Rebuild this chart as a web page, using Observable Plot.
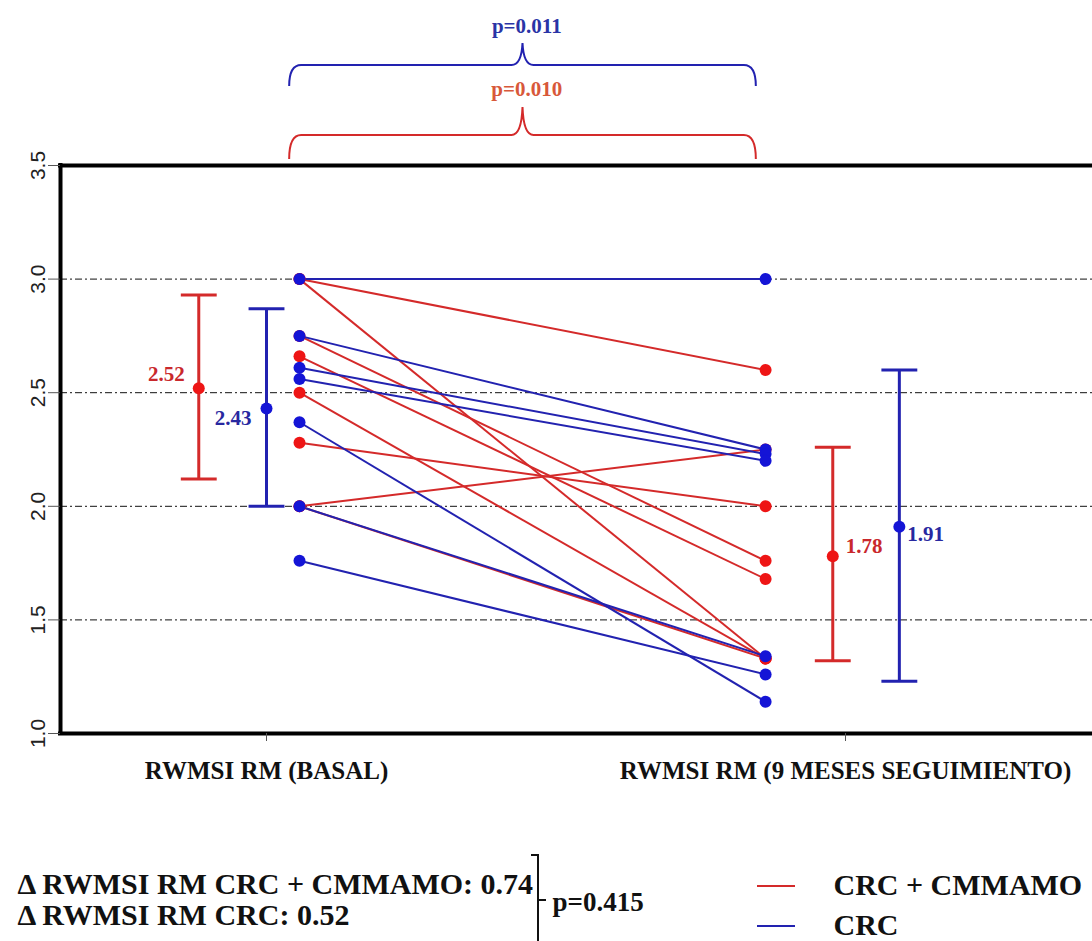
<!DOCTYPE html>
<html>
<head>
<meta charset="utf-8">
<script src="https://cdn.jsdelivr.net/npm/d3@7"></script>
<script src="https://cdn.jsdelivr.net/npm/@observablehq/plot@0.6"></script>
<style>
  html, body { margin: 0; padding: 0; background: #fff; overflow: hidden; }
</style>
</head>
<body>
<div id="chart"></div>
<script>
// ---------------- data ----------------
const timepoints = ["RWMSI RM (BASAL)", "RWMSI RM (9 MESES SEGUIMIENTO)"];
const groups = ["CRC + CMMAMO", "CRC"];
// individual subjects (basal -> 9 months)
const redBasal  = [3.00, 3.00, 2.75, 2.66, 2.50, 2.28, 2.00, 2.00];
const redFollow = [2.60, 1.33, 1.76, 1.68, 1.33, 2.00, 2.25, 1.33];
const blueBasal  = [3.00, 2.75, 2.61, 2.56, 2.37, 2.00, 1.76];
const blueFollow = [3.00, 2.25, 2.23, 2.20, 1.14, 1.34, 1.26];
// summary: order = CRC+CMMAMO basal, CRC basal, CRC+CMMAMO 9m, CRC 9m
const summaryGroup = [0, 1, 0, 1];
const summaryTime = [0, 0, 1, 1];
const means = [2.52, 2.43, 1.78, 1.91];
const lower = [2.12, 2.00, 1.32, 1.23];
const upper = [2.93, 2.87, 2.26, 2.60];
const meanLabels = ["2.52", "2.43", "1.78", "1.91"];
const pWithin = ["p=0.010", "p=0.011"]; // CRC+CMMAMO, CRC
const yTicks = [1.0, 1.5, 2.0, 2.5, 3.0, 3.5];
const gridTicks = [1.5, 2.0, 2.5, 3.0];
const deltaLabels = ["\u0394 RWMSI RM CRC + CMMAMO: 0.74", "\u0394 RWMSI RM CRC: 0.52"];
const pBetween = ["p=0.415"];

// ---------------- styling / layout ----------------
const SERIF = "'Liberation Serif', 'Times New Roman', Times, serif";
const SANS = "'Liberation Sans', Arial, Helvetica, sans-serif";
const redDot = "#ee1515", blueDot = "#1414d6";
const redLine = "#d42a2a", blueLine = "#2222b0";
const redText = "#c9282c", blueText = "#2828a0";
const pRedText = "#d8583a", pBlueText = "#2a34a6";
const xMin = 0.6442, xMax = 2.4266;
const xBasalPts = 1.057, xFollowPts = 1.862;
const summaryX = [0.883, 1.0, 1.978, 2.093];
const labelDx = [-14, -15, 13, 8];
const labelDy = [-14, 10, -10, 8];
const labelAnchor = ["end", "end", "start", "start"];

const subjects = [
  ...redBasal.map((b, i) => ({group: groups[0], basal: b, follow: redFollow[i]})),
  ...blueBasal.map((b, i) => ({group: groups[1], basal: b, follow: blueFollow[i]}))
];
const summary = means.map((m, i) => ({
  group: groups[summaryGroup[i]], time: timepoints[summaryTime[i]],
  x: summaryX[i], mean: m, lo: lower[i], hi: upper[i], label: meanLabels[i],
  dx: labelDx[i], dy: labelDy[i], anchor: labelAnchor[i]
}));
const colorOf = g => g === groups[0] ? redLine : blueLine;
const dotOf = g => g === groups[0] ? redDot : blueDot;

function bracePath(xl, xr, yH, yEnd, yTip, r, c) {
  const xc = (xl + xr) / 2;
  return `M${xl},${yEnd} Q${xl},${yH} ${xl + r},${yH} L${xc - c},${yH} ` +
         `Q${xc - 1},${yH} ${xc},${yTip} Q${xc + 1},${yH} ${xc + c},${yH} ` +
         `L${xr - r},${yH} Q${xr},${yH} ${xr},${yEnd}`;
}

const capHalf = 0.031;
const bySub = g => subjects.filter(d => d.group === g);
const bottomText = (arr, dx, dy, size) => Plot.text(arr, {
  text: d => d, frameAnchor: "bottom-left", dx, dy, textAnchor: "start",
  fontFamily: SERIF, fontSize: size, fontWeight: "bold", fill: "#111"
});

const chart = Plot.plot({
  width: 1092,
  height: 941,
  marginLeft: 60,
  marginRight: 0,
  marginTop: 165,
  marginBottom: 208,
  x: {domain: [xMin, xMax], axis: null, label: null},
  y: {domain: [1, 3.5], axis: null, label: null},
  style: {fontFamily: SERIF, background: "white", overflow: "visible"},
  marks: [
    // dash-dot gridlines
    Plot.ruleY(gridTicks, {stroke: "#111", strokeWidth: 1, strokeDasharray: "7,3,2,3"}),
    // subject lines
    ...groups.map(g => Plot.link(bySub(g), {
      x1: xBasalPts, x2: xFollowPts, y1: "basal", y2: "follow",
      stroke: colorOf(g), strokeWidth: 2
    })),
    ...groups.map(g => Plot.dot(bySub(g), {x: xBasalPts, y: "basal", r: 6, fill: dotOf(g)})),
    ...groups.map(g => Plot.dot(bySub(g), {x: xFollowPts, y: "follow", r: 6, fill: dotOf(g)})),
    // error bars (mean ± SD)
    Plot.link(summary, {x1: "x", x2: "x", y1: "lo", y2: "hi", stroke: d => colorOf(d.group), strokeWidth: 3}),
    Plot.link(summary, {x1: d => d.x - capHalf, x2: d => d.x + capHalf, y1: "lo", y2: "lo", stroke: d => colorOf(d.group), strokeWidth: 3}),
    Plot.link(summary, {x1: d => d.x - capHalf, x2: d => d.x + capHalf, y1: "hi", y2: "hi", stroke: d => colorOf(d.group), strokeWidth: 3}),
    Plot.dot(summary, {x: "x", y: "mean", r: 6, fill: d => dotOf(d.group)}),
    ...summary.map(s => Plot.text([s], {
      x: "x", y: "mean", text: "label", dx: s.dx, dy: s.dy, textAnchor: s.anchor,
      fill: s.group === groups[0] ? redText : blueText, fontSize: 21, fontWeight: "bold", fontFamily: SERIF
    })),
    // frame (left, top, bottom; right side is cut off)
    Plot.ruleY([1, 3.5], {stroke: "#000", strokeWidth: 4, strokeLinecap: "square"}),
    Plot.ruleX([xMin], {stroke: "#000", strokeWidth: 4, strokeLinecap: "square"}),
    // axes ticks
    Plot.axisY({ticks: yTicks, tickSize: 12, tickFormat: () => "", label: null, stroke: "#555"}),
    Plot.axisX({ticks: [1, 2], tickSize: 8, tickFormat: () => "", label: null, stroke: "#555"}),
    Plot.text(yTicks, {y: d => d, text: d => d.toFixed(1), frameAnchor: "left", dx: -22, rotate: -90,
      textAnchor: "middle", fontFamily: SANS, fontSize: 21, fill: "#222"}),
    Plot.text(timepoints, {x: (d, i) => i + 1, text: d => d, frameAnchor: "bottom", dy: 45,
      fontFamily: SERIF, fontSize: 25, fontWeight: "bold", fill: "#111"}),
    // within-group p-values with braces
    Plot.text([pWithin[1]], {x: (xBasalPts + xFollowPts) / 2 - 0.01, text: d => d, frameAnchor: "top", dy: -147,
      fill: pBlueText, fontSize: 21, fontWeight: "bold", fontFamily: SERIF}),
    Plot.text([pWithin[0]], {x: (xBasalPts + xFollowPts) / 2 - 0.01, text: d => d, frameAnchor: "top", dy: -84,
      fill: pRedText, fontSize: 21, fontWeight: "bold", fontFamily: SERIF}),
    (index, {x}, values, dims) => {
      const g = d3.create("svg:g").attr("fill", "none").attr("stroke-width", 2);
      const xl = x(xBasalPts - 0.017), xr = x(xFollowPts - 0.016);
      const top = dims.marginTop;
      g.append("path").attr("stroke", blueLine)
        .attr("d", bracePath(xl, xr, top - 100, top - 79, top - 122, 12, 11));
      g.append("path").attr("stroke", redLine)
        .attr("d", bracePath(xl, xr, top - 30, top - 6, top - 58, 12, 11));
      // between-group bracket at the bottom
      const H = dims.height;
      g.append("path").attr("stroke", "#111")
        .attr("d", `M531,${H - 86} L538,${H - 86} L538,${H} M538,${H - 41} L546,${H - 41}`);
      // legend swatches
      g.append("line").attr("x1", 757).attr("x2", 795).attr("y1", H - 55).attr("y2", H - 55).attr("stroke", redLine);
      g.append("line").attr("x1", 757).attr("x2", 795).attr("y1", H - 15).attr("y2", H - 15).attr("stroke", blueLine);
      return g.node();
    },
    // bottom annotations
    bottomText([deltaLabels[0]], -43, 160, 30),
    bottomText([deltaLabels[1]], -43, 191, 30),
    bottomText(pBetween, 492, 177, 27),
    bottomText([groups[0]], 773, 161, 30),
    bottomText([groups[1]], 773, 201, 30)
  ]
});
document.getElementById("chart").appendChild(chart);
</script>
</body>
</html>
